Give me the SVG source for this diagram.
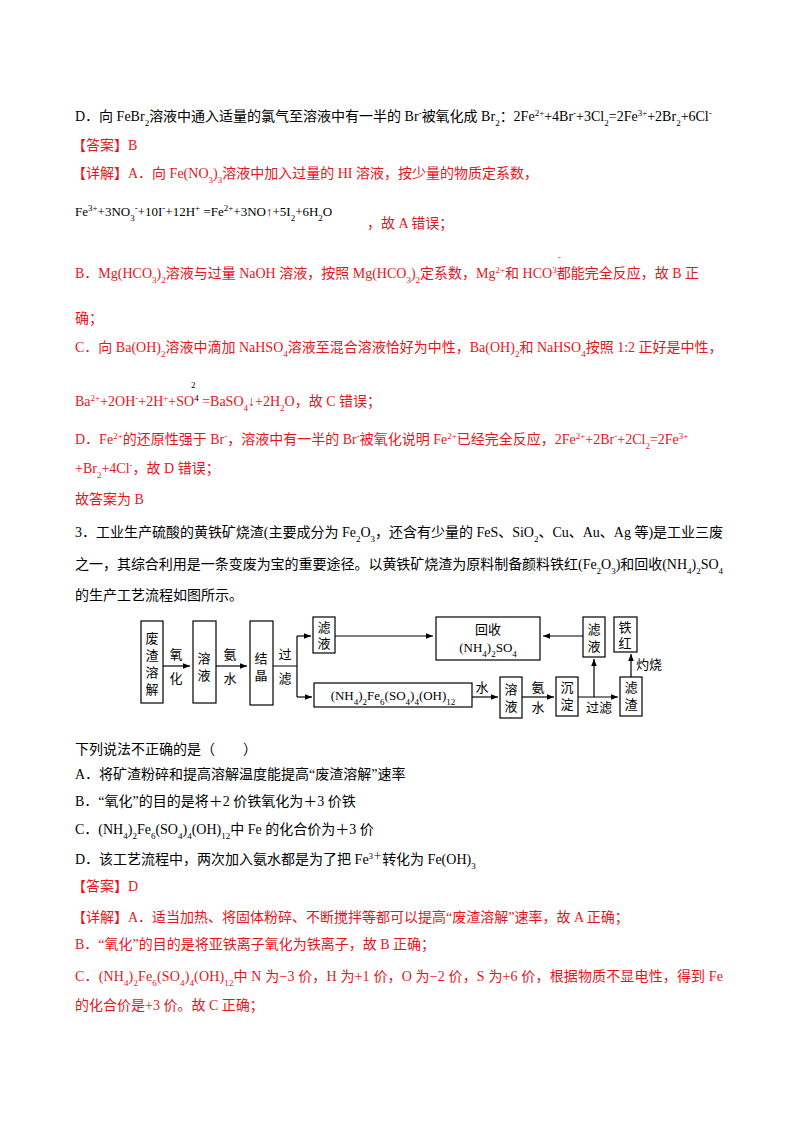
<svg xmlns="http://www.w3.org/2000/svg" width="800" height="1132" viewBox="0 0 800 1132">
<style>
text{font-family:"Liberation Serif","Noto Sans CJK SC",serif;font-size:14px;fill:#000}
.r{fill:#e8141c}
.s{font-size:9px}
.b{fill:none;stroke:#000;stroke-width:1.2}
.l{fill:none;stroke:#000;stroke-width:1.2;marker-end:url(#a)}
.f{font-size:13px}
</style>
<defs><marker id="a" viewBox="0 0 10 10" refX="10" refY="5" markerWidth="7" markerHeight="7" orient="auto" markerUnits="userSpaceOnUse"><path d="M0,1 L10,5 L0,9 Z" fill="#000"/></marker></defs>
<rect width="800" height="1132" fill="#fff"/>
<text x="75" y="121">D．向 FeBr<tspan class="s" baseline-shift="sub">2</tspan>溶液中通入适量的氯气至溶液中有一半的 Br<tspan class="s" baseline-shift="super">-</tspan>被氧化成 Br<tspan class="s" baseline-shift="sub">2</tspan>：2Fe<tspan class="s" baseline-shift="super">2+</tspan>+4Br<tspan class="s" baseline-shift="super">-</tspan>+3Cl<tspan class="s" baseline-shift="sub">2</tspan>=2Fe<tspan class="s" baseline-shift="super">3+</tspan>+2Br<tspan class="s" baseline-shift="sub">2</tspan>+6Cl<tspan class="s" baseline-shift="super">-</tspan></text>
<text x="72" y="150" class="r">【答案】B</text>
<text x="72" y="178" class="r">【详解】A．向 Fe(NO<tspan class="s" baseline-shift="sub">3</tspan>)<tspan class="s" baseline-shift="sub">3</tspan>溶液中加入过量的 HI 溶液，按少量的物质定系数，</text>
<text x="75" y="216" style="font-size:13px">Fe<tspan class="s" baseline-shift="super">3+</tspan>+3NO<tspan class="s" baseline-shift="sub">3</tspan><tspan class="s" baseline-shift="super">-</tspan>+10I<tspan class="s" baseline-shift="super">-</tspan>+12H<tspan class="s" baseline-shift="super">+</tspan> =Fe<tspan class="s" baseline-shift="super">2+</tspan>+3NO↑+5I<tspan class="s" baseline-shift="sub">2</tspan>+6H<tspan class="s" baseline-shift="sub">2</tspan>O</text>
<text x="367" y="228" class="r">，故 A 错误；</text>
<text x="75" y="278" class="r">B．Mg(HCO<tspan class="s" baseline-shift="sub">3</tspan>)<tspan class="s" baseline-shift="sub">2</tspan>溶液与过量 NaOH 溶液，按照 Mg(HCO<tspan class="s" baseline-shift="sub">3</tspan>)<tspan class="s" baseline-shift="sub">2</tspan>定系数，Mg<tspan class="s" baseline-shift="super">2+</tspan>和 HCO<tspan class="s" baseline-shift="super">3</tspan>都能完全反应，故 B 正</text>
<text x="558" y="260" class="r s">-</text>
<text x="75" y="323" class="r">确；</text>
<text x="75" y="352" class="r">C．向 Ba(OH)<tspan class="s" baseline-shift="sub">2</tspan>溶液中滴加 NaHSO<tspan class="s" baseline-shift="sub">4</tspan>溶液至混合溶液恰好为中性，Ba(OH)<tspan class="s" baseline-shift="sub">2</tspan>和 NaHSO<tspan class="s" baseline-shift="sub">4</tspan>按照 1:2 正好是中性，</text>
<text x="191" y="388" class="s">2</text>
<text x="75" y="406" class="r">Ba<tspan class="s" baseline-shift="super">2+</tspan>+2OH<tspan class="s" baseline-shift="super">-</tspan>+2H<tspan class="s" baseline-shift="super">+</tspan>+SO<tspan class="s" baseline-shift="super" fill="#000">4</tspan> =BaSO<tspan class="s" baseline-shift="sub">4</tspan>↓+2H<tspan class="s" baseline-shift="sub">2</tspan>O，故 C 错误；</text>
<text x="75" y="444" class="r">D．Fe<tspan class="s" baseline-shift="super">2+</tspan>的还原性强于 Br<tspan class="s" baseline-shift="super">-</tspan>，溶液中有一半的 Br<tspan class="s" baseline-shift="super">-</tspan>被氧化说明 Fe<tspan class="s" baseline-shift="super">2+</tspan>已经完全反应，2Fe<tspan class="s" baseline-shift="super">2+</tspan>+2Br<tspan class="s" baseline-shift="super">-</tspan>+2Cl<tspan class="s" baseline-shift="sub">2</tspan>=2Fe<tspan class="s" baseline-shift="super">3+</tspan></text>
<text x="75" y="473" class="r">+Br<tspan class="s" baseline-shift="sub">2</tspan>+4Cl<tspan class="s" baseline-shift="super">-</tspan>，故 D 错误；</text>
<text x="75" y="504" class="r">故答案为 B</text>
<text x="75" y="537" textLength="648" lengthAdjust="spacing">3．工业生产硫酸的黄铁矿烧渣(主要成分为 Fe<tspan class="s" baseline-shift="sub">2</tspan>O<tspan class="s" baseline-shift="sub">3</tspan>，还含有少量的 FeS、SiO<tspan class="s" baseline-shift="sub">2</tspan>、Cu、Au、Ag 等)是工业三废</text>
<text x="75" y="569" textLength="648" lengthAdjust="spacing">之一，其综合利用是一条变废为宝的重要途径。以黄铁矿烧渣为原料制备颜料铁红(Fe<tspan class="s" baseline-shift="sub">2</tspan>O<tspan class="s" baseline-shift="sub">3</tspan>)和回收(NH<tspan class="s" baseline-shift="sub">4</tspan>)<tspan class="s" baseline-shift="sub">2</tspan>SO<tspan class="s" baseline-shift="sub">4</tspan></text>
<text x="75" y="600">的生产工艺流程如图所示。</text>

<g id="n1"><rect class="b" x="141" y="621" width="22" height="82"/><text x="152" y="643" text-anchor="middle" class="f">废</text><text x="152" y="660" text-anchor="middle" class="f">渣</text><text x="152" y="677" text-anchor="middle" class="f">溶</text><text x="152" y="694" text-anchor="middle" class="f">解</text></g>
<g id="n2"><rect class="b" x="193" y="621" width="23" height="82"/><text x="204" y="663" text-anchor="middle" class="f">溶</text><text x="204" y="680" text-anchor="middle" class="f">液</text></g>
<g id="n3"><rect class="b" x="250" y="621" width="23" height="84"/><text x="261" y="663" text-anchor="middle" class="f">结</text><text x="261" y="680" text-anchor="middle" class="f">晶</text></g>
<g id="n4"><rect class="b" x="313" y="617" width="22" height="36"/><text x="324" y="632" text-anchor="middle" class="f">滤</text><text x="324" y="648" text-anchor="middle" class="f">液</text></g>
<g id="n5"><rect class="b" x="436" y="617" width="104" height="43"/><text x="488" y="634" text-anchor="middle" class="f">回收</text><text x="488" y="652" text-anchor="middle" class="f">(NH<tspan class="s" baseline-shift="sub">4</tspan>)<tspan class="s" baseline-shift="sub">2</tspan>SO<tspan class="s" baseline-shift="sub">4</tspan></text></g>
<g id="n6"><rect class="b" x="583" y="617" width="22" height="40"/><text x="594" y="634" text-anchor="middle" class="f">滤</text><text x="594" y="651" text-anchor="middle" class="f">液</text></g>
<g id="n7"><rect class="b" x="614" y="617" width="23" height="35"/><text x="625" y="632" text-anchor="middle" class="f">铁</text><text x="625" y="648" text-anchor="middle" class="f">红</text></g>
<g id="n8"><rect class="b" x="314" y="683" width="158" height="24"/><text x="393" y="700" text-anchor="middle" class="f">(NH<tspan class="s" baseline-shift="sub">4</tspan>)<tspan class="s" baseline-shift="sub">2</tspan>Fe<tspan class="s" baseline-shift="sub">6</tspan>(SO<tspan class="s" baseline-shift="sub">4</tspan>)<tspan class="s" baseline-shift="sub">4</tspan>(OH)<tspan class="s" baseline-shift="sub">12</tspan></text></g>
<g id="n9"><rect class="b" x="500" y="677" width="22" height="41"/><text x="511" y="694" text-anchor="middle" class="f">溶</text><text x="511" y="711" text-anchor="middle" class="f">液</text></g>
<g id="n10"><rect class="b" x="556" y="677" width="22" height="39"/><text x="567" y="692" text-anchor="middle" class="f">沉</text><text x="567" y="709" text-anchor="middle" class="f">淀</text></g>
<g id="n11"><rect class="b" x="620" y="677" width="22" height="39"/><text x="631" y="692" text-anchor="middle" class="f">滤</text><text x="631" y="709" text-anchor="middle" class="f">渣</text></g>

<g id="connectors">
<path class="l" d="M163,666 H190"/>
<path class="l" d="M216,666 H247"/>
<path class="b" d="M273,666 H297 M297,636 V697"/>
<path class="l" d="M297,636 H311"/>
<path class="l" d="M297,697 H312"/>
<path class="l" d="M335,636 H433"/>
<path class="l" d="M583,636 H543"/>
<path class="l" d="M472,697 H498"/>
<path class="l" d="M522,697 H554"/>
<path class="l" d="M578,697 H618"/>
<path class="l" d="M594,697 V659"/>
<path class="l" d="M631,677 V654"/>
</g>
<g id="labels">
<text x="176" y="659" text-anchor="middle" class="f">氧</text><text x="176" y="683" text-anchor="middle" class="f">化</text>
<text x="230" y="659" text-anchor="middle" class="f">氨</text><text x="230" y="683" text-anchor="middle" class="f">水</text>
<text x="285" y="659" text-anchor="middle" class="f">过</text><text x="285" y="683" text-anchor="middle" class="f">滤</text>
<text x="482" y="692" text-anchor="middle" class="f">水</text>
<text x="538" y="692" text-anchor="middle" class="f">氨</text><text x="538" y="712" text-anchor="middle" class="f">水</text>
<text x="599" y="712" text-anchor="middle" class="f">过滤</text>
<text x="636" y="669" class="f">灼烧</text>
</g>

<text x="75" y="754">下列说法不正确的是（　　）</text>
<text x="75" y="779">A．将矿渣粉碎和提高溶解温度能提高“废渣溶解”速率</text>
<text x="75" y="806">B．“氧化”的目的是将＋2 价铁氧化为＋3 价铁</text>
<text x="75" y="834">C．(NH<tspan class="s" baseline-shift="sub">4</tspan>)<tspan class="s" baseline-shift="sub">2</tspan>Fe<tspan class="s" baseline-shift="sub">6</tspan>(SO<tspan class="s" baseline-shift="sub">4</tspan>)<tspan class="s" baseline-shift="sub">4</tspan>(OH)<tspan class="s" baseline-shift="sub">12</tspan>中 Fe 的化合价为＋3 价</text>
<text x="75" y="864">D．该工艺流程中，两次加入氨水都是为了把 Fe<tspan class="s" baseline-shift="super">3＋</tspan>转化为 Fe(OH)<tspan class="s" baseline-shift="sub">3</tspan></text>
<text x="72" y="891" class="r">【答案】D</text>
<text x="72" y="922" class="r">【详解】A．适当加热、将固体粉碎、不断搅拌等都可以提高“废渣溶解”速率，故 A 正确；</text>
<text x="75" y="949" class="r">B．“氧化”的目的是将亚铁离子氧化为铁离子，故 B 正确；</text>
<text x="75" y="981" class="r" textLength="648" lengthAdjust="spacing">C．(NH<tspan class="s" baseline-shift="sub">4</tspan>)<tspan class="s" baseline-shift="sub">2</tspan>Fe<tspan class="s" baseline-shift="sub">6</tspan>(SO<tspan class="s" baseline-shift="sub">4</tspan>)<tspan class="s" baseline-shift="sub">4</tspan>(OH)<tspan class="s" baseline-shift="sub">12</tspan>中 N 为−3 价，H 为+1 价，O 为−2 价，S 为+6 价，根据物质不显电性，得到 Fe</text>
<text x="75" y="1010" class="r">的化合价是+3 价。故 C 正确；</text>
</svg>
